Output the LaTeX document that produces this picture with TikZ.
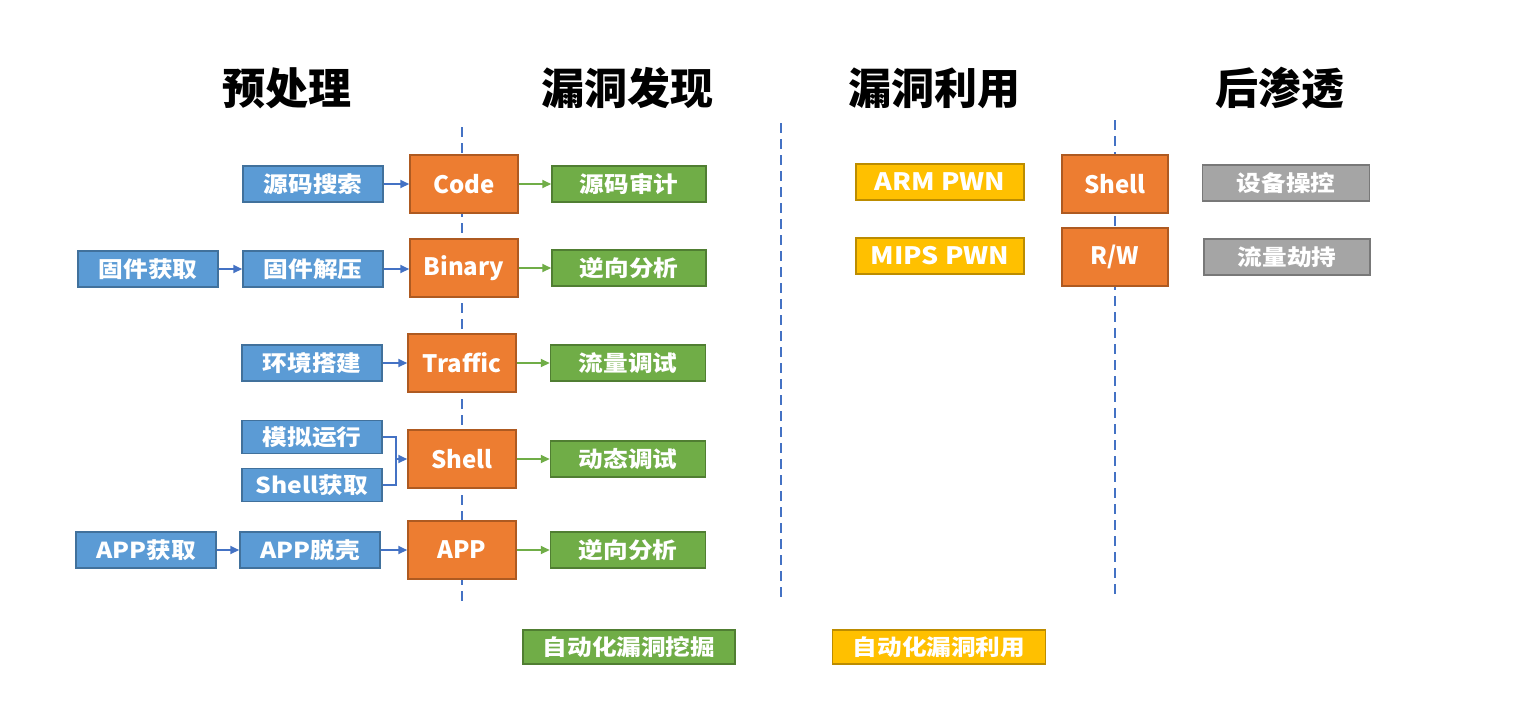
\documentclass[tikz,border=0pt]{standalone}
\usepackage{fontspec}
\setmainfont{Noto Sans CJK SC}
\newfontfamily\boxfont{Noto Sans CJK SC}[FakeStretch=1.12]
\usetikzlibrary{arrows.meta}
\definecolor{bfill}{HTML}{5B9BD5}\definecolor{bdraw}{HTML}{41719C}
\definecolor{ofill}{HTML}{ED7D31}\definecolor{odraw}{HTML}{AE5A21}
\definecolor{gfill}{HTML}{70AD47}\definecolor{gdraw}{HTML}{507E32}
\definecolor{yfill}{HTML}{FFC000}\definecolor{ydraw}{HTML}{BC8C00}
\definecolor{afill}{HTML}{A5A5A5}\definecolor{adraw}{HTML}{787878}
\definecolor{dline}{HTML}{4472C4}
\definecolor{barrow}{HTML}{4472C4}
\tikzset{
  box/.style={draw, line width=1.5pt, inner sep=0pt, text=white, font=\boxfont\bfseries\fontsize{22}{24}\selectfont, anchor=center},
  bluebox/.style={box, fill=bfill, draw=bdraw, minimum width=140pt, minimum height=36pt},
  orbox/.style={box, fill=ofill, draw=odraw, minimum width=108pt, minimum height=58pt, font=\bfseries\fontsize{24}{26}\selectfont},
  grbox/.style={box, fill=gfill, draw=gdraw, minimum width=155pt, minimum height=36pt},
  yebox/.style={box, fill=yfill, draw=ydraw, minimum width=168pt, minimum height=36pt},
  grybox/.style={box, fill=afill, draw=adraw, minimum width=167pt, minimum height=36pt},
  title/.style={font=\bfseries\fontsize{43}{46}\selectfont, text=black, inner sep=0pt},
  sep/.style={draw=dline, line width=2.3pt, dash pattern=on 10pt off 6pt},
  barr/.style={draw=barrow, line width=2pt, -{Triangle[length=9pt,width=8pt]}},
  garr/.style={draw=gfill, line width=2pt, -{Triangle[length=9pt,width=8pt]}},
}
\begin{document}
\begin{tikzpicture}[x=1pt,y=-1pt]
\useasboundingbox[fill=white] (0,0) rectangle (1520,713);
% titles
\node[title] (t1) at (287,88) {预处理};
\node[title] (t2) at (627,88) {漏洞发现};
\node[title] (t3) at (934,88) {漏洞利用};
\node[title] (t4) at (1280,88) {后渗透};
% separators
\coordinate (s1a) at (462,127); \coordinate (s1b) at (462,605);
\coordinate (s2a) at (781,123); \coordinate (s2b) at (781,602);
\coordinate (s3a) at (1115,120); \coordinate (s3b) at (1115,600);
\draw[sep] (s1a) -- (s1b);
\draw[sep] (s2a) -- (s2b);
\draw[sep] (s3a) -- (s3b);
% orange middle
\node[orbox] (code) at (464,184) {Code};
\node[orbox] (bin) at (464,268) {Binary};
\node[orbox] (traf) at (462,363) {Traffic};
\node[orbox] (shell) at (462,459) {Shell};
\node[orbox] (app) at (462,550) {APP};
% blue
\node[bluebox] (ymss) at (313,184) {源码搜索};
\node[bluebox] (gjhq) at (148,269) {固件获取};
\node[bluebox] (gjjy) at (313,269) {固件解压};
\node[bluebox] (hjdj) at (312,363) {环境搭建};
\node[bluebox, minimum height=33pt] (mnyx) at (312,437) {模拟运行};
\node[bluebox, minimum height=33pt] (shhq) at (312,485) {Shell获取};
\node[bluebox] (apphq) at (146,550) {APP获取};
\node[bluebox] (apptk) at (310,550) {APP脱壳};
% green
\node[grbox, minimum width=154pt] (ymsj) at (629,184) {源码审计};
\node[grbox, minimum width=154pt] (nxfx1) at (629,268) {逆向分析};
\node[grbox] (llts) at (628,363) {流量调试};
\node[grbox] (dtts) at (628,459) {动态调试};
\node[grbox] (nxfx2) at (628,550) {逆向分析};
% exploitation
\node[yebox, font=\boxfont\bfseries\fontsize{24}{26}\selectfont] (arm) at (940,182) {ARM PWN};
\node[yebox, font=\boxfont\bfseries\fontsize{24}{26}\selectfont] (mips) at (940,256) {MIPS PWN};
\node[orbox, minimum width=106pt] (shell2) at (1115,184) {Shell};
\node[orbox, minimum width=106pt] (rw) at (1115,257) {R/W};
\node[grybox] (sbck) at (1286,183) {设备操控};
\node[grybox, minimum width=166pt] (lljc) at (1287,257) {流量劫持};
% bottom
\node[grbox, minimum width=212pt, minimum height=34pt] (auto1) at (629,647) {自动化漏洞挖掘};
\node[yebox, minimum width=213pt, minimum height=34pt] (auto2) at (939,647) {自动化漏洞利用};
% arrows
\draw[barr] (ymss) -- (code);
\draw[barr] (gjhq) -- (gjjy);
\draw[barr] (gjjy) -- (bin.west |- gjjy);
\draw[barr] (hjdj) -- (traf);
\draw[barr] (apphq) -- (apptk);
\draw[barr] (apptk) -- (app);
\coordinate (j) at (396,459);
\draw[draw=barrow, line width=2pt] (mnyx.east) -| (j);
\draw[draw=barrow, line width=2pt] (shhq.east) -| (j);
\draw[barr] (j) -- (shell.west);
\draw[garr] (code) -- (ymsj);
\draw[garr] (bin) -- (nxfx1);
\draw[garr] (traf) -- (llts);
\draw[garr] (shell) -- (dtts);
\draw[garr] (app) -- (nxfx2);
\end{tikzpicture}
\end{document}
